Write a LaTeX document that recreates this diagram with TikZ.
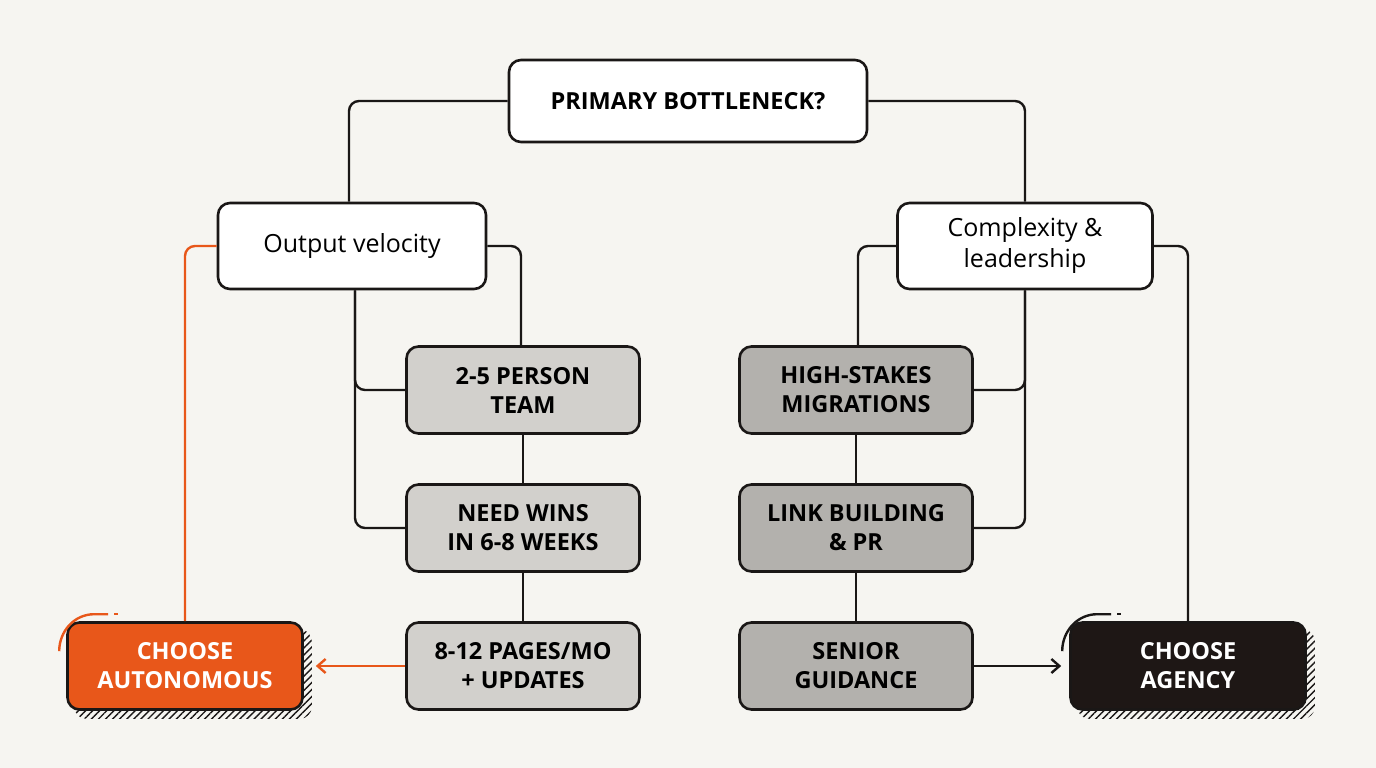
\documentclass[tikz,border=0pt]{standalone}
\usepackage{fontspec}
\setmainfont{Open Sans}
\usetikzlibrary{positioning,calc,backgrounds,patterns.meta,arrows.meta}
\definecolor{paper}{HTML}{F6F5F1}
\definecolor{ink}{HTML}{1A1716}
\definecolor{lightbox}{HTML}{D2D0CC}
\definecolor{darkbox}{HTML}{B3B1AD}
\definecolor{orange}{HTML}{E8571A}
\definecolor{agencybox}{HTML}{1E1715}
\tikzset{
  box/.style={draw=ink, line width=2.6pt, rounded corners=12pt, align=center, inner sep=0pt},
  question/.style={box, fill=white, font=\fontsize{25}{31}\selectfont},
  caps/.style={box, font=\bfseries\fontsize{23.5}{29}\selectfont, minimum width=233pt, minimum height=87pt},
  light/.style={caps, fill=lightbox},
  dark/.style={caps, fill=darkbox},
  wire/.style={draw=ink, line width=2.4pt, rounded corners=10pt},
  hatch/.style={pattern={Lines[angle=45,distance=5pt,line width=1.4pt]}, pattern color=ink},
}
\begin{document}
\begin{tikzpicture}[x=1pt,y=-1pt]
\useasboundingbox (0,0) rectangle (1376,768);

% question nodes
\node[question, minimum width=358pt, minimum height=82pt, font=\bfseries\fontsize{23.5}{29}\selectfont] (top) at (688,101) {PRIMARY BOTTLENECK?};
\node[question, minimum width=268pt, minimum height=86pt] (velocity) at (352,246) {Output velocity};
\node[question, minimum width=255pt, minimum height=86pt] (complexity) at (1025,246) {Complexity \&\\leadership};

% left branch
\node[light] (team) at (523,390) {2-5 PERSON\\TEAM};
\node[light] (wins) at (523,528) {NEED WINS\\IN 6-8 WEEKS};
\node[light] (pages) at (523,666) {8-12 PAGES/MO\\+ UPDATES};

% right branch
\node[dark] (migrations) at (856,390) {HIGH-STAKES\\MIGRATIONS};
\node[dark] (link) at (856,528) {LINK BUILDING\\\& PR};
\node[dark] (senior) at (856,666) {SENIOR\\GUIDANCE};

% outcomes
\node[caps, fill=orange, text=white, minimum width=235pt] (autonomous) at (185,666) {CHOOSE\\AUTONOMOUS};
\node[caps, fill=agencybox, text=white, minimum width=235pt] (agency) at (1188,666) {CHOOSE\\AGENCY};

\begin{scope}[on background layer]
  \fill[paper] (0,0) rectangle (1376,768);
  \foreach \n in {autonomous,agency}
    \path[hatch, rounded corners=12pt] ($(\n.north west)+(8,8)$) rectangle ($(\n.south east)+(8,8)$);
\end{scope}

% corner accents
\draw[orange, line width=2.4pt] ($(autonomous.north west)+(-7,30)$) to[out=90,in=180] ($(autonomous.north west)+(28,-7)$) -- ++(14,0);
\draw[orange, line width=2.4pt] ($(autonomous.north west)+(48,-7)$) -- ++(4,0);
\draw[ink, line width=2.4pt] ($(agency.north west)+(-7,30)$) to[out=90,in=180] ($(agency.north west)+(28,-7)$) -- ++(14,0);
\draw[ink, line width=2.4pt] ($(agency.north west)+(48,-7)$) -- ++(4,0);

% connectors
\draw[wire] (top.west) -| (velocity.north -| 349,0);
\draw[wire] (top.east) -| (complexity.north);
\draw[wire] (velocity.south -| 355,0) |- (team.west);
\draw[wire] (velocity.south -| 355,0) |- (wins.west);
\draw[wire] (velocity.east) -| (team.north -| 521,0);
\draw[wire] (team) -- (wins);
\draw[wire] (wins) -- (pages);
\draw[wire, draw=orange] (velocity.west) -| (autonomous.north);
\draw[wire, draw=orange, -{Straight Barb[length=8pt,width=14pt]}] (pages.west) -- ([xshift=12pt]autonomous.east);
\draw[wire] (complexity.west) -| (migrations.north -| 858,0);
\draw[wire] (complexity.south) |- (migrations.east);
\draw[wire] (complexity.south) |- (link.east);
\draw[wire] (complexity.east) -| (agency.north);
\draw[wire] (migrations) -- (link);
\draw[wire] (link) -- (senior);
\draw[wire, -{Straight Barb[length=8pt,width=14pt]}] (senior.east) -- ([xshift=-8pt]agency.west);
\end{tikzpicture}
\end{document}
